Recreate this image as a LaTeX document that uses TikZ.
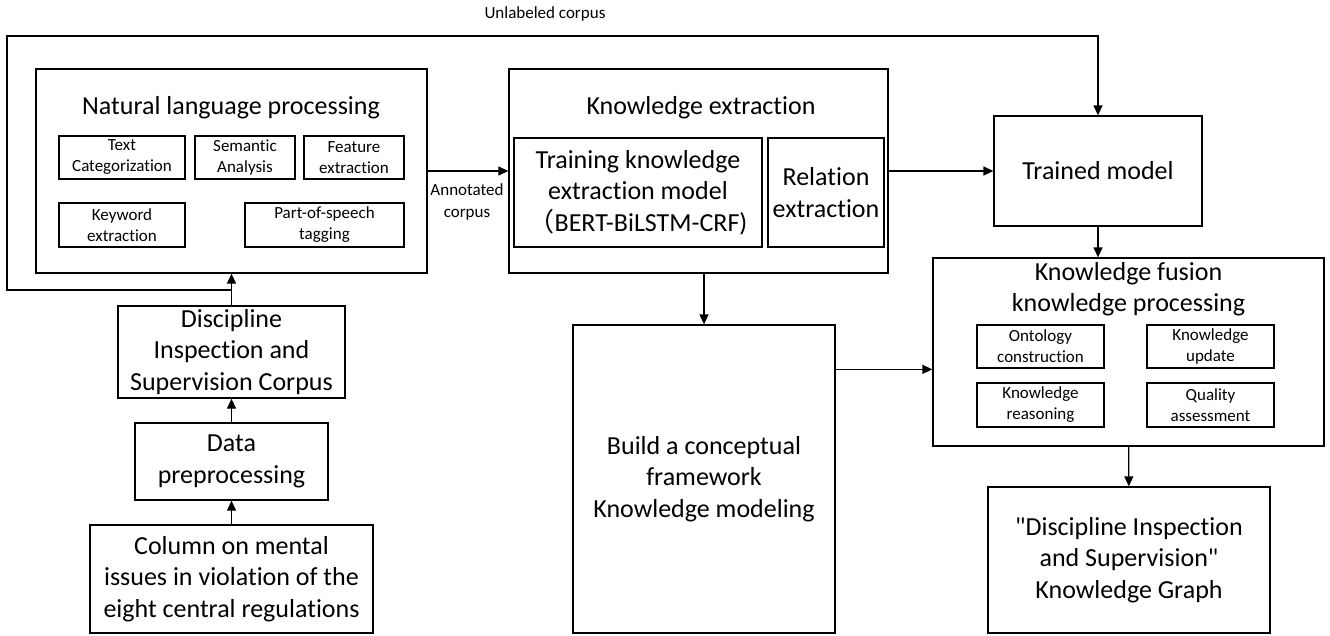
\documentclass[tikz,border=0pt]{standalone}
\usepackage{fontspec}
\setmainfont{Carlito}[Ligatures={TeXOff,NoCommon}]
\newfontfamily\cjk{Noto Sans CJK SC}
\usetikzlibrary{arrows.meta, positioning, calc}

\tikzset{
  frame/.style={draw, line width=1.3pt, inner sep=0pt, align=center},
  bigbox/.style={frame, font=\fontsize{26}{31.5}\selectfont},
  smallbox/.style={frame, font=\fontsize{17}{21}\selectfont},
  heading/.style={inner sep=0pt, align=center, font=\fontsize{26}{31.5}\selectfont},
  caption/.style={inner sep=0pt, align=center, font=\fontsize{17}{22}\selectfont},
  flow/.style={line width=1.3pt, -{Triangle[length=10pt,width=9pt]}}
}

\begin{document}
\begin{tikzpicture}[x=1pt, y=-1pt]
        \useasboundingbox (0,0) rectangle (1330,635);
        % Natural language processing block
        \node[frame, minimum width=391pt, minimum height=204pt] (nlp) at (231.5,171) {};
        \node[heading] (nlptitle) at (231,108) {Natural language processing};
        \node[smallbox, minimum width=126pt, minimum height=43pt] (textcat) at (122,157.5) {Text\\Categorization};
        \node[smallbox, minimum width=100pt, minimum height=43pt] (semantic) at (245,157.5) {Semantic\\Analysis};
        \node[smallbox, minimum width=100pt, minimum height=43pt] (feature) at (354,157.5) {Feature\\extraction};
        \node[smallbox, minimum width=126pt, minimum height=44pt] (keyword) at (122,225) {Keyword\\extraction};
        \node[smallbox, minimum width=159pt, minimum height=44pt] (postag) at (324.5,225) {Part-of-speech\\tagging};
        % Knowledge extraction block
        \node[frame, minimum width=379pt, minimum height=204pt] (ke) at (698.5,171) {};
        \node[heading] (ketitle) at (701,108) {Knowledge extraction};
        \node[bigbox, minimum width=248pt, minimum height=109pt] (train) at (638,192.5) {Training knowledge\\extraction model\\{\cjk （}BERT-BiLSTM-CRF)};
        \node[bigbox, minimum width=116pt, minimum height=109pt] (relation) at (826,192.5) {Relation\\extraction};
        % Trained model
        \node[bigbox, minimum width=208pt, minimum height=110pt] (trained) at (1098,171) {Trained model};
        % Knowledge fusion block
        \node[frame, minimum width=391pt, minimum height=188pt] (kf) at (1128.5,352) {};
        \node[heading] (kftitle) at (1128.5,289) {Knowledge fusion\\knowledge processing};
        \node[smallbox, minimum width=127pt, minimum height=43pt] (ontology) at (1040.5,346.5) {Ontology\\construction};
        \node[smallbox, minimum width=127pt, minimum height=43pt] (update) at (1210.5,346.5) {Knowledge\\update};
        \node[smallbox, minimum width=127pt, minimum height=44pt] (reasoning) at (1040.5,405) {Knowledge\\reasoning};
        \node[smallbox, minimum width=127pt, minimum height=44pt] (quality) at (1210.5,405) {Quality\\assessment};
        % Knowledge graph and modeling
        \node[bigbox, minimum width=282pt, minimum height=146pt] (graph) at (1129,560) {"Discipline Inspection\\and Supervision"\\Knowledge Graph};
        \node[bigbox, minimum width=262pt, minimum height=308pt] (build) at (704,479) {Build a conceptual\\framework\\Knowledge modeling};
        % Corpus chain
        \node[bigbox, minimum width=227pt, minimum height=92pt] (corpus) at (231.5,352) {Discipline\\Inspection and\\Supervision Corpus};
        \node[bigbox, minimum width=193pt, minimum height=77pt] (prep) at (231.5,461.5) {Data\\preprocessing};
        \node[bigbox, minimum width=283pt, minimum height=108pt] (column) at (231.5,579) {Column on mental\\issues in violation of the\\eight central regulations};
        % Connectors
        \draw[flow] (column) -- (prep);
        \draw[flow] (prep) -- (corpus);
        \draw[flow] (corpus) -- (nlp);
        \coordinate (loopbottom) at (7,290);
        \coordinate (looptop) at (7,36);
        \draw[flow] (corpus.north) -- (corpus.north |- loopbottom) -- (loopbottom) -- (looptop) -| (trained.north);
        \node[caption] (unlabeled) at (545,14) {Unlabeled corpus};
        \draw[flow] (nlp) -- (ke);
        \node[caption] (annotated) at (467,202) {Annotated\\corpus};
        \draw[flow] (ke) -- (trained);
        \draw[flow] (trained.south) -- (trained.south |- kf.north);
        \draw[flow] (ke.south -| build.north) -- (build.north);
        \draw[flow] ([yshift=-45pt]build.north east) -- ([yshift=-45pt]build.north east -| kf.west);
        \draw[flow] (kf) -- (graph);
    \end{tikzpicture}
\end{document}
